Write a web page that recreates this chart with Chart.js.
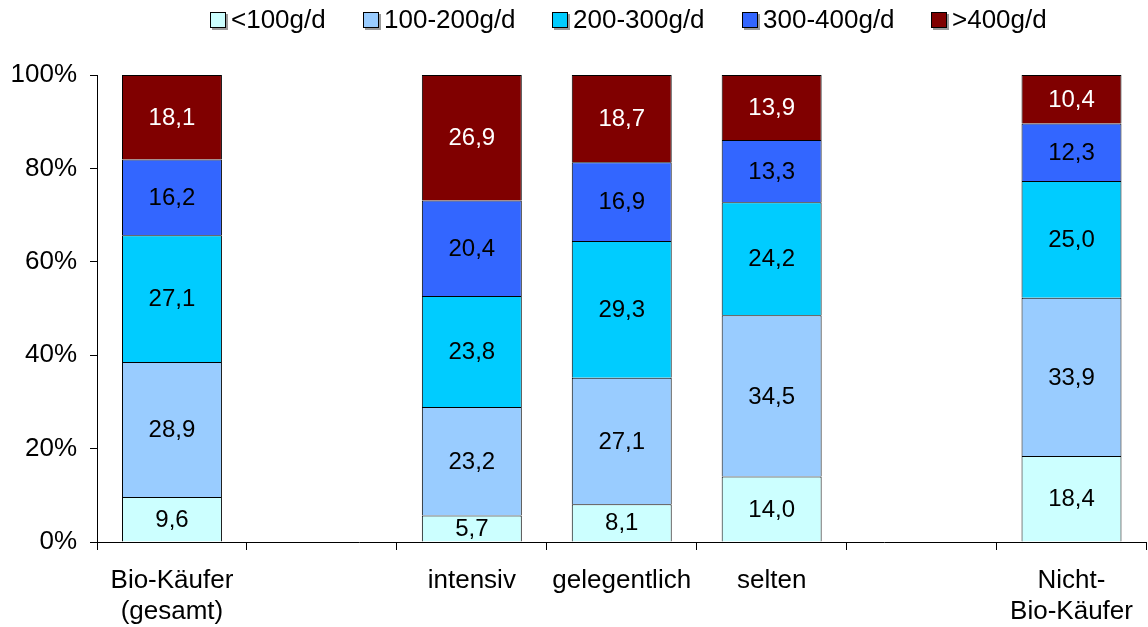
<!DOCTYPE html>
<html>
<head>
<meta charset="utf-8">
<script src="https://cdn.jsdelivr.net/npm/chart.js@4"></script>
<style>
  html, body { margin: 0; padding: 0; background: #ffffff; }
  #wrap { width: 1148px; height: 627px; }
</style>
</head>
<body>
<div id="wrap"><canvas id="fleischChart" width="1148" height="627"></canvas></div>
<script>
// categories (empty strings are the gaps between groups)
const categories = [
  ["Bio-Käufer", "(gesamt)"],
  "",
  "intensiv",
  "gelegentlich",
  "selten",
  "",
  ["Nicht-", "Bio-Käufer"],
];

const seriesNames = ["<100g/d", "100-200g/d", "200-300g/d", "300-400g/d", ">400g/d"];
const seriesColors = ["#CCFFFF", "#99CCFF", "#00CCFF", "#3366FF", "#800000"];

// shares in % as printed on the bars
const under100 = [9.6, null, 5.7, 8.1, 14.0, null, 18.4];
const from100to200 = [28.9, null, 23.2, 27.1, 34.5, null, 33.9];
const from200to300 = [27.1, null, 23.8, 29.3, 24.2, null, 25.0];
const from300to400 = [16.2, null, 20.4, 16.9, 13.3, null, 12.3];
const over400 = [18.1, null, 26.9, 18.7, 13.9, null, 10.4];

const yTicks = [0, 20, 40, 60, 80, 100];

const FONT = "'Liberation Sans', Arial, sans-serif";
const rawSeries = [under100, from100to200, from200to300, from300to400, over400];

// 100% stacked: scale every column to a total of 100
const columnTotals = categories.map((c, i) =>
  rawSeries.reduce((s, arr) => s + (arr[i] || 0), 0)
);
const datasets = rawSeries.map((arr, k) => ({
  label: seriesNames[k],
  raw: arr,
  data: arr.map((v, i) => (v === null ? null : (v / columnTotals[i]) * 100)),
  backgroundColor: seriesColors[k],
  borderColor: "#000000",
  borderWidth: 1,
  barPercentage: 100 / 150,
  categoryPercentage: 1,
}));

const valueLabels = {
  id: "valueLabels",
  afterDatasetsDraw(chart) {
    const ctx = chart.ctx;
    ctx.save();
    ctx.font = "24px " + FONT;
    ctx.textAlign = "center";
    ctx.textBaseline = "middle";
    chart.data.datasets.forEach((ds, k) => {
      const meta = chart.getDatasetMeta(k);
      meta.data.forEach((bar, i) => {
        const v = ds.raw[i];
        if (v === null) return;
        ctx.fillStyle = k === 4 ? "#ffffff" : "#000000";
        ctx.fillText(v.toFixed(1).replace(".", ","), bar.x, (bar.y + bar.base) / 2 + 1);
      });
    });
    ctx.restore();
  },
};

const topLegend = {
  id: "topLegend",
  afterDraw(chart) {
    const ctx = chart.ctx;
    const box = 16, gap = 5, spacing = 37, centerX = 629, y = 20;
    ctx.save();
    ctx.font = "26px " + FONT;
    ctx.textBaseline = "middle";
    ctx.textAlign = "left";
    const widths = seriesNames.map((n) => ctx.measureText(n).width);
    const total = widths.reduce((a, b) => a + b, 0) + seriesNames.length * (box + gap) + (seriesNames.length - 1) * spacing;
    let x = Math.round(centerX - total / 2);
    seriesNames.forEach((name, k) => {
      const bx = Math.round(x), by = y - box / 2;
      ctx.fillStyle = "#9a9a9a";
      ctx.fillRect(bx + 2, by + 2, box, box);
      ctx.fillStyle = seriesColors[k];
      ctx.fillRect(bx, by, box, box);
      ctx.strokeStyle = "#000000";
      ctx.lineWidth = 1;
      ctx.strokeRect(bx + 0.5, by + 0.5, box - 1, box - 1);
      ctx.fillStyle = "#000000";
      ctx.fillText(name, bx + box + gap, y + 1);
      x += box + gap + widths[k] + spacing;
    });
    ctx.restore();
  },
};

new Chart(document.getElementById("fleischChart"), {
  type: "bar",
  data: { labels: categories, datasets },
  options: {
    responsive: false,
    animation: false,
    layout: { padding: { top: 75, right: 1, left: 0, bottom: 0 } },
    plugins: {
      legend: { display: false },
      tooltip: { enabled: false },
    },
    scales: {
      x: {
        stacked: true,
        afterFit: (scale) => {
          scale.height = 85;
        },
        grid: { offset: true, drawOnChartArea: false, tickLength: 8, color: "#000000" },
        border: { color: "#000000" },
        ticks: { color: "#000000", font: { size: 26, family: FONT }, padding: 15, maxRotation: 0, autoSkip: false },
      },
      y: {
        stacked: true,
        min: 0,
        max: 100,
        afterBuildTicks: (scale) => {
          scale.ticks = yTicks.map((v) => ({ value: v }));
        },
        afterFit: (scale) => {
          scale.width = 97;
        },
        grid: { drawOnChartArea: false, tickLength: 7, color: "#000000" },
        border: { color: "#000000" },
        ticks: {
          color: "#000000",
          font: { size: 26, family: FONT },
          padding: 13,
          callback: (v) => v + "%",
        },
      },
    },
  },
  plugins: [valueLabels, topLegend],
});
</script>
</body>
</html>
